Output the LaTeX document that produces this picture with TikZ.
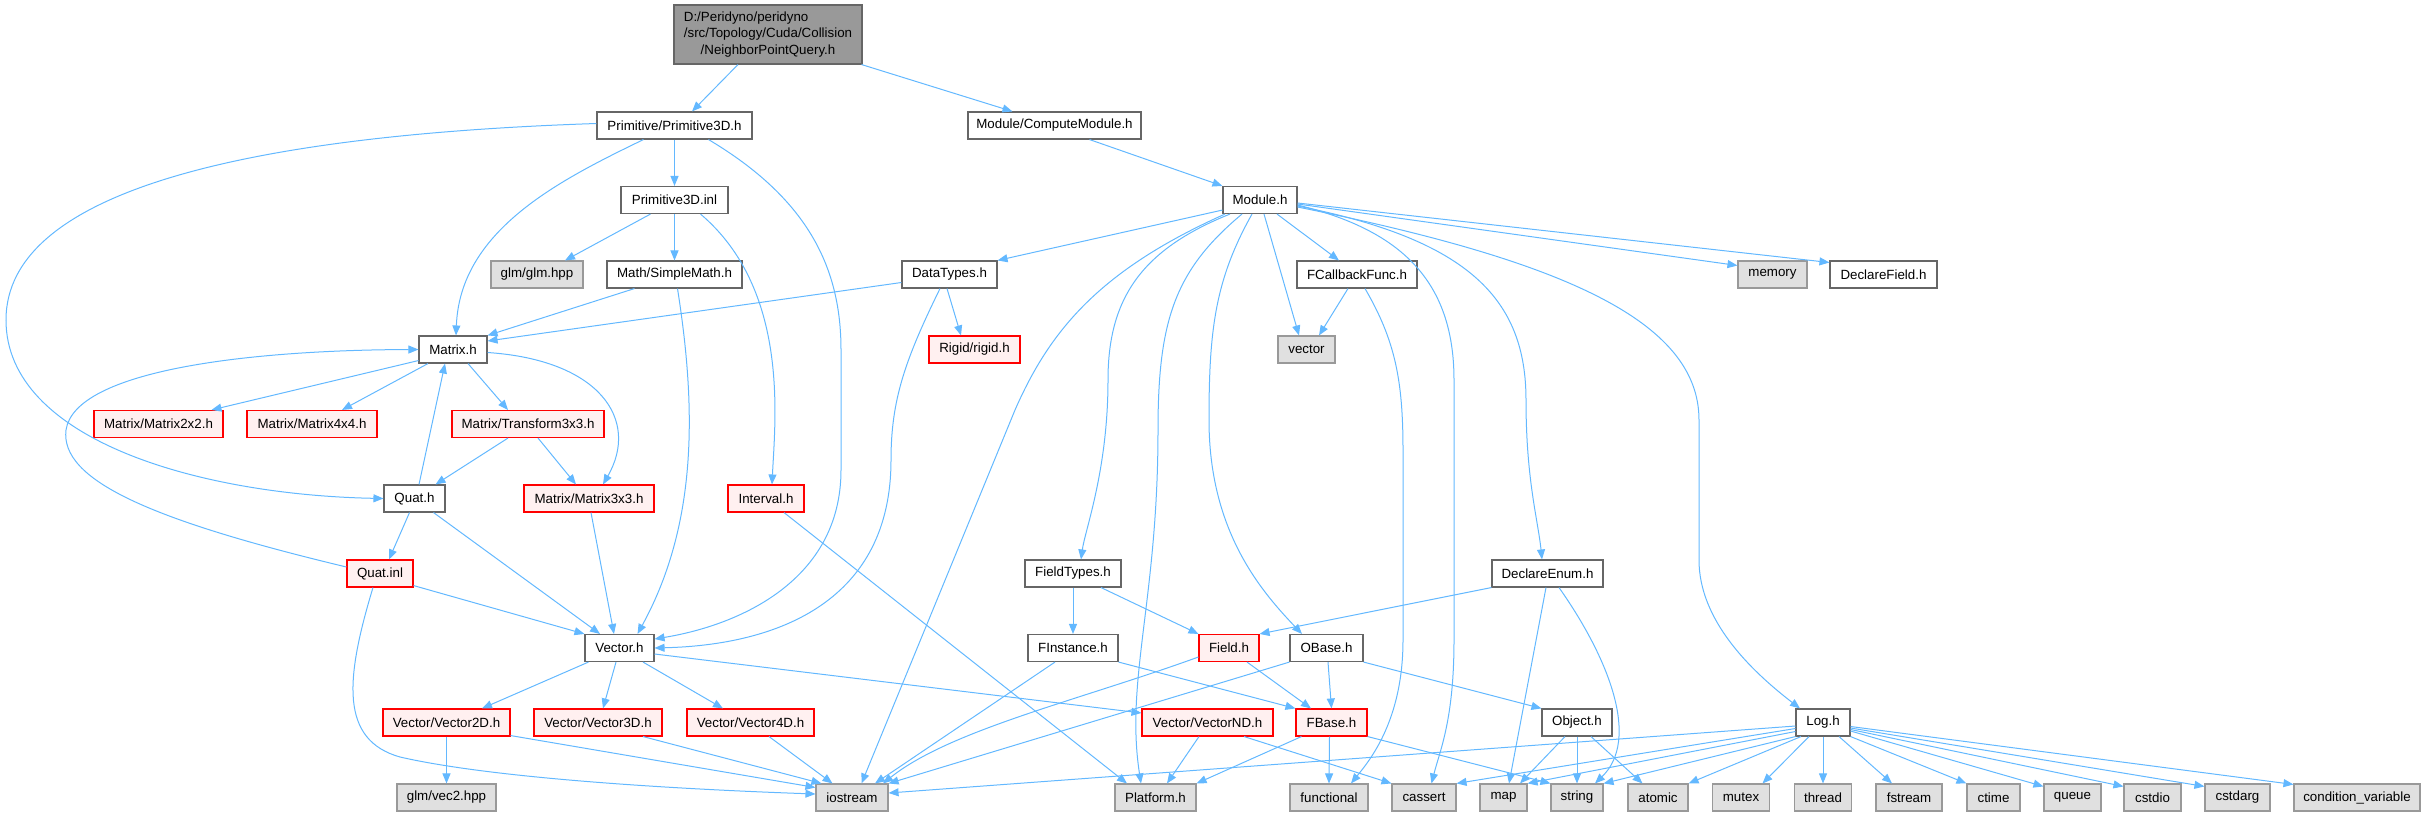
\documentclass[tikz,border=0pt]{standalone}
\usepackage{fontspec}
\setmainfont{Liberation Sans}
\usetikzlibrary{arrows.meta}
\definecolor{edgec}{HTML}{63B8FF}
\definecolor{bordn}{HTML}{666666}
\definecolor{borde}{HTML}{999999}
\definecolor{fille}{HTML}{E0E0E0}
\definecolor{fillr}{HTML}{FFF0F0}
\definecolor{fillroot}{HTML}{999999}
\tikzset{
  box/.style={rectangle, inner sep=0pt, minimum height=27pt, line width=1.1pt,
    font=\fontsize{13.33}{16.3}\selectfont},
  nrm/.style={box, draw=bordn, fill=white},
  redn/.style={box, draw=red, fill=fillr},
  extn/.style={box, draw=borde, fill=fille},
  rootn/.style={box, draw=bordn, fill=fillroot},
  dep/.style={draw=edgec, line width=1pt, -{Triangle[length=10pt,width=8pt]}}
}
\begin{document}
\begin{tikzpicture}[x=1pt,y=-1pt]
\useasboundingbox (0,0) rectangle (2421,816);
% ---------------- nodes
\node[rootn, minimum width=188pt, minimum height=59pt] (root) at (768,34.5)
  {\begin{tabular}{@{}l@{}}D:/Peridyno/peridyno\\/src/Topology/Cuda/Collision\\\multicolumn{1}{@{}c@{}}{/NeighborPointQuery.h}\end{tabular}};
\node[nrm, minimum width=155pt] (prim) at (674.5,125.5) {Primitive/Primitive3D.h};
\node[nrm, minimum width=173pt] (cmod) at (1054.5,125.5) {Module/ComputeModule.h};
\node[nrm, minimum width=107pt] (pinl) at (674.5,200) {Primitive3D.inl};
\node[nrm, minimum width=74pt] (module) at (1260,200) {Module.h};
\node[extn, minimum width=92pt] (glm) at (537,274.5) {glm/glm.hpp};
\node[nrm, minimum width=135pt] (smath) at (674.5,274.5) {Math/SimpleMath.h};
\node[nrm, minimum width=95pt] (dtypes) at (949.5,274.5) {DataTypes.h};
\node[nrm, minimum width=120pt] (fcb) at (1357,274.5) {FCallbackFunc.h};
\node[extn, minimum width=69pt] (memory) at (1772.5,274.5) {memory};
\node[nrm, minimum width=107pt] (dfield) at (1883.5,274.5) {DeclareField.h};
\node[nrm, minimum width=68pt] (matrix) at (453,349.5) {Matrix.h};
\node[redn, minimum width=91pt] (rigid) at (974.5,349.5) {Rigid/rigid.h};
\node[extn, minimum width=57pt] (vector) at (1306.5,349.5) {vector};
\node[redn, minimum width=129pt] (m2) at (158.5,424) {Matrix/Matrix2x2.h};
\node[redn, minimum width=130pt] (m4) at (312,424) {Matrix/Matrix4x4.h};
\node[redn, minimum width=152pt] (tr3) at (528,424) {Matrix/Transform3x3.h};
\node[nrm, minimum width=61pt] (quat) at (414.5,498.5) {Quat.h};
\node[redn, minimum width=130pt] (m3) at (589,498.5) {Matrix/Matrix3x3.h};
\node[redn, minimum width=76pt] (interval) at (766,498.5) {Interval.h};
\node[redn, minimum width=66pt] (quatinl) at (380,573.5) {Quat.inl};
\node[nrm, minimum width=96pt] (ftypes) at (1073,573.5) {FieldTypes.h};
\node[nrm, minimum width=111pt] (denum) at (1547.5,573.5) {DeclareEnum.h};
\node[nrm, minimum width=69pt] (vech) at (619.5,648) {Vector.h};
\node[nrm, minimum width=90pt] (finst) at (1073,648) {FInstance.h};
\node[redn, minimum width=60pt] (field) at (1229,648) {Field.h};
\node[nrm, minimum width=73pt] (obase) at (1326.5,648) {OBase.h};
\node[redn, minimum width=127pt] (v2) at (446.5,722.5) {Vector/Vector2D.h};
\node[redn, minimum width=128pt] (v3) at (598,722.5) {Vector/Vector3D.h};
\node[redn, minimum width=127pt] (v4) at (750.5,722.5) {Vector/Vector4D.h};
\node[redn, minimum width=131pt] (vnd) at (1207.5,722.5) {Vector/VectorND.h};
\node[redn, minimum width=71pt] (fbase) at (1331.5,722.5) {FBase.h};
\node[nrm, minimum width=70pt] (object) at (1577,722.5) {Object.h};
\node[nrm, minimum width=54pt] (logh) at (1823,722.5) {Log.h};
\node[extn, minimum width=99pt] (vec2) at (446.5,797.5) {glm/vec2.hpp};
\node[extn, minimum width=72pt] (iostream) at (852,797.5) {iostream};
\node[extn, minimum width=81pt] (platform) at (1155.5,797.5) {Platform.h};
\node[extn, minimum width=78pt] (functional) at (1329,797.5) {functional};
\node[extn, minimum width=64pt] (cassert) at (1424,797.5) {cassert};
\node[extn, minimum width=47pt] (map) at (1503.5,797.5) {map};
\node[extn, minimum width=52pt] (string) at (1577,797.5) {string};
\node[extn, minimum width=60pt] (atomic) at (1658,797.5) {atomic};
\node[extn, minimum width=57pt] (mutex) at (1741,797.5) {mutex};
\node[extn, minimum width=57pt] (thread) at (1823,797.5) {thread};
\node[extn, minimum width=66pt] (fstream) at (1909,797.5) {fstream};
\node[extn, minimum width=53pt] (ctime) at (1993.5,797.5) {ctime};
\node[extn, minimum width=57pt] (queue) at (2072.5,797.5) {queue};
\node[extn, minimum width=57pt] (cstdio) at (2152.5,797.5) {cstdio};
\node[extn, minimum width=65pt] (cstdarg) at (2237.5,797.5) {cstdarg};
\node[extn, minimum width=126pt] (condvar) at (2357,797.5) {condition\_variable};
% ---------------- edges
\draw[dep] ([xshift=-30pt]root.south) -- ([xshift=17.5pt]prim.north);
\draw[dep] ([xshift=-1pt]root.south east) -- ([xshift=-42pt]cmod.north);
\draw[dep] ([xshift=35pt]cmod.south) -- (module.north west);
\draw[dep] (prim.south) -- (pinl.north);
\draw[dep] ([xshift=-31pt]prim.south) .. controls (560,180) and (460,230) .. ([xshift=3pt]matrix.north);
\draw[dep] ([yshift=2pt]prim.west) .. controls (250,135) and (6,190) .. (6,320)
   .. controls (6,440) and (200,495) .. (quat.west);
\draw[dep] ([xshift=34pt]prim.south) .. controls (810,200) and (841,270) .. (841,350) -- (841,470)
   .. controls (841,580) and (740,625) .. ([yshift=9pt]vech.east);
\draw[dep] ([xshift=-24pt]pinl.south) -- ([xshift=28pt]glm.north);
\draw[dep] (pinl.south) -- (smath.north);
\draw[dep] ([xshift=26pt]pinl.south) .. controls (790,290) and (775,420) .. ([xshift=6pt]interval.north);
\draw[dep] ([xshift=-40pt]smath.south) -- (matrix.north east);
\draw[dep] ([yshift=-8pt]dtypes.west) -- ([yshift=8.5pt]matrix.east);
\draw[dep] ([xshift=3pt]smath.south) .. controls (695,400) and (700,520) .. ([xshift=18pt]vech.north);
\draw[dep] ([yshift=3pt]matrix.south west) -- ([xshift=53pt]m2.north);
\draw[dep] ([xshift=-25pt]matrix.south) -- ([xshift=30pt]m4.north);
\draw[dep] ([xshift=15pt]matrix.south) -- ([xshift=-20pt]tr3.north);
\draw[dep] ([yshift=-3pt]matrix.east) .. controls (600,360) and (640,420) .. ([xshift=14pt]m3.north);
\draw[dep] ([xshift=-20pt]tr3.south) -- ([xshift=21pt]quat.north);
\draw[dep] ([xshift=10pt]tr3.south) -- ([xshift=-13pt]m3.north);
\draw[dep] ([xshift=4.5pt]quat.north) -- ([xshift=-8pt]matrix.south);
\draw[dep] ([xshift=-5pt]quat.south) -- ([xshift=9pt]quatinl.north);
\draw[dep] ([xshift=19pt]quat.south) -- ([xshift=-19.5pt]vech.north);
\draw[dep] ([yshift=2pt]quatinl.south east) -- (vech.north west);
\draw[dep] ([yshift=6.5pt]quatinl.west) .. controls (150,520) and (60,480) .. (66,430)
   .. controls (75,370) and (250,350) .. (matrix.west);
\draw[dep] ([xshift=-7pt]quatinl.south) .. controls (345,680) and (340,740) .. (400,757)
   .. controls (500,780) and (700,790) .. ([yshift=3.5pt]iostream.west);
\draw[dep] ([xshift=2pt]m3.south) -- ([xshift=-5.5pt]vech.north);
\draw[dep] ([xshift=18pt]interval.south) -- ([xshift=-28.5pt]platform.north);
\draw[dep] ([xshift=-31pt]vech.south) -- ([xshift=35.5pt]v2.north);
\draw[dep] ([xshift=-3.5pt]vech.south) -- ([xshift=5pt]v3.north);
\draw[dep] ([xshift=23.5pt]vech.south) -- ([xshift=-27.5pt]v4.north);
\draw[dep] ([yshift=-6pt]vech.east) -- ([yshift=9.5pt]vnd.west);
\draw[dep] (v2.south) -- (vec2.north);
\draw[dep] ([yshift=1pt]v2.south east) -- ([yshift=10pt]iostream.west);
\draw[dep] ([xshift=45pt]v3.south) -- ([xshift=6pt]iostream.north west);
\draw[dep] ([xshift=18.5pt]v4.south) -- ([xshift=-19.5pt]iostream.north);
\draw[dep] ([xshift=-8.5pt]vnd.south) -- ([xshift=11.5pt]platform.north);
\draw[dep] ([xshift=36.5pt]vnd.south) -- (cassert.north west);
% Module.h
\draw[dep] ([yshift=4pt]module.south west) -- (dtypes.north east);
\draw[dep] ([xshift=-35pt]module.south) .. controls (1100,270) and (1050,330) .. (1015,410)
   -- ([xshift=9.5pt]iostream.north);
\draw[dep] ([xshift=-30pt]module.south) .. controls (1140,250) and (1108,300) .. (1108,380)
   .. controls (1108,470) and (1085,530) .. ([xshift=8pt]ftypes.north);
\draw[dep] ([xshift=-18pt]module.south) .. controls (1175,270) and (1158,320) .. (1158,430)
   .. controls (1158,600) and (1125,680) .. ([xshift=-14.5pt]platform.north);
\draw[dep] ([xshift=-8pt]module.south) .. controls (1215,280) and (1209,330) .. (1209,420)
   .. controls (1209,530) and (1260,590) .. ([xshift=-24.5pt]obase.north);
\draw[dep] ([xshift=4pt]module.south) -- ([xshift=-7.5pt]vector.north);
\draw[dep] ([xshift=17pt]module.south) -- ([xshift=-18pt]fcb.north);
\draw[dep] ([xshift=-9pt]fcb.south) -- ([xshift=12.5pt]vector.north);
\draw[dep] ([xshift=8pt]fcb.south) .. controls (1395,340) and (1403,380) .. (1403,450) -- (1403,640)
   .. controls (1403,720) and (1370,760) .. ([xshift=22pt]functional.north);
\draw[dep] ([yshift=-5pt]module.east) .. controls (1400,230) and (1454,280) .. (1454,380) -- (1454,640)
   .. controls (1454,720) and (1440,750) .. ([xshift=7.5pt]cassert.north);
\draw[dep] ([yshift=-6pt]module.east) .. controls (1470,240) and (1526,300) .. (1526,400)
   .. controls (1526,480) and (1538,520) .. ([xshift=-5.5pt]denum.north);
\draw[dep] ([yshift=-7pt]module.east) .. controls (1560,260) and (1699,320) .. (1699,420) -- (1699,560)
   .. controls (1699,620) and (1750,670) .. ([xshift=-23pt]logh.north);
\draw[dep] ([yshift=-4pt]module.east) -- ([yshift=9pt]memory.west);
\draw[dep] ([yshift=-3pt]module.east) -- ([yshift=12pt]dfield.west);
% DataTypes
\draw[dep] ([xshift=-2.5pt]dtypes.south) -- ([xshift=-13.5pt]rigid.north);
\draw[dep] ([xshift=-9.5pt]dtypes.south) .. controls (905,360) and (891,400) .. (891,460)
   .. controls (891,600) and (780,645) .. (vech.east);
% fields
\draw[dep] (ftypes.south) -- (finst.north);
\draw[dep] ([xshift=28pt]ftypes.south) -- (field.north west);
\draw[dep] (denum.south west) -- (field.north east);
\draw[dep] ([xshift=-1.5pt]denum.south) -- ([xshift=5.5pt]map.north);
\draw[dep] ([xshift=11.5pt]denum.south) .. controls (1610,660) and (1640,740) .. ([xshift=18pt]string.north);
\draw[dep] ([xshift=-18pt]finst.south) -- ([xshift=23pt]iostream.north);
\draw[dep] (finst.south east) -- (fbase.north west);
\draw[dep] ([yshift=-9pt]field.west) .. controls (1080,700) and (950,730) .. ([xshift=31pt]iostream.north);
\draw[dep] ([xshift=18pt]field.south) -- ([xshift=-20.5pt]fbase.north);
\draw[dep] (obase.south west) -- (iostream.north east);
\draw[dep] ([xshift=1.5pt]obase.south) -- (fbase.north);
\draw[dep] (obase.south east) -- (object.north west);
\draw[dep] ([xshift=-30pt]fbase.south) -- (platform.north east);
\draw[dep] ([xshift=-2pt]fbase.south) -- (functional.north);
\draw[dep] (fbase.south east) -- (string.north west);
\draw[dep] ([xshift=-12pt]object.south) -- ([xshift=16.5pt]map.north);
\draw[dep] (object.south) -- (string.north);
\draw[dep] ([xshift=14pt]object.south) -- ([xshift=-15.5pt]atomic.north);
% Log.h
\draw[dep] ([yshift=-3.5pt]logh.west) -- ([yshift=4.5pt]iostream.east);
\draw[dep] ([yshift=-6pt]logh.west) -- (cassert.north east);
\draw[dep] ([yshift=-9pt]logh.west) -- (map.north east);
\draw[dep] (logh.south west) -- (string.north east);
\draw[dep] ([xshift=-22pt]logh.south) -- (atomic.north east);
\draw[dep] ([xshift=-14pt]logh.south) -- ([xshift=21.5pt]mutex.north);
\draw[dep] (logh.south) -- (thread.north);
\draw[dep] ([xshift=16pt]logh.south) -- ([xshift=-17pt]fstream.north);
\draw[dep] (logh.south east) -- (ctime.north west);
\draw[dep] ([yshift=-8.5pt]logh.east) -- ([yshift=-3pt]queue.north west);
\draw[dep] ([yshift=-7pt]logh.east) -- ([yshift=-3pt]cstdio.north west);
\draw[dep] ([yshift=-5.5pt]logh.east) -- ([yshift=-3pt]cstdarg.north west);
\draw[dep] ([yshift=-4pt]logh.east) -- ([yshift=-1pt]condvar.north west);
\end{tikzpicture}
\end{document}
